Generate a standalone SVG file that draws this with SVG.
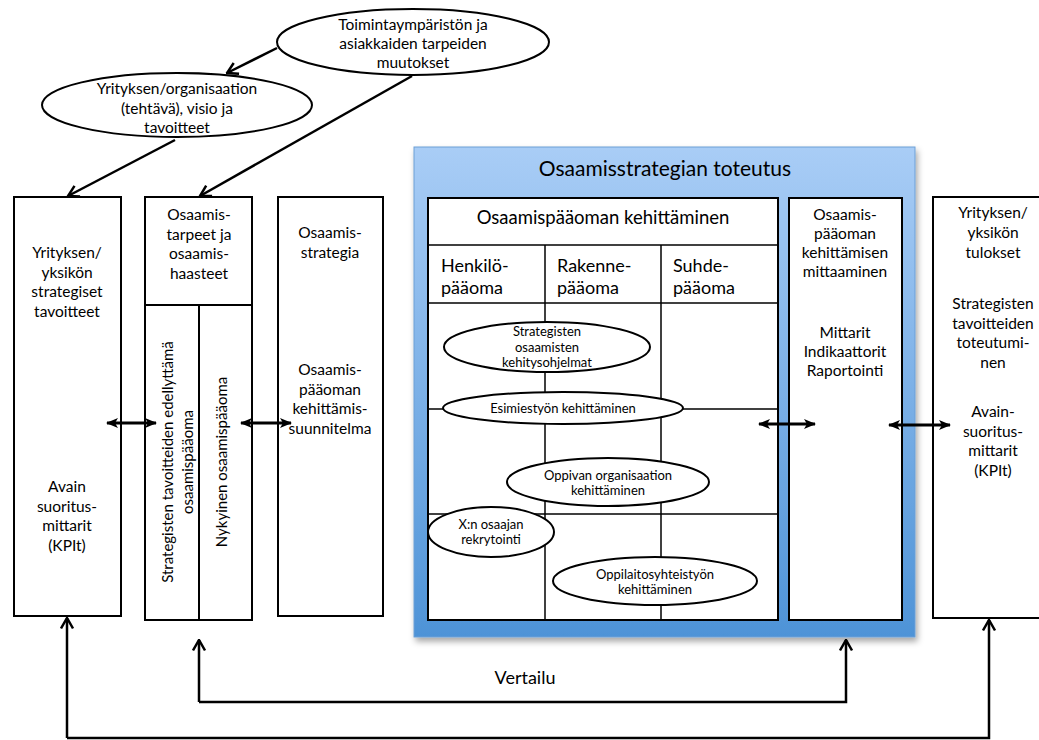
<svg xmlns="http://www.w3.org/2000/svg" width="1039" height="740" viewBox="0 0 1039 740">
  <style>
    text { font-family: Lato, "Open Sans", "Liberation Sans", sans-serif; fill: #000; text-anchor: middle; }
    .box { fill: #fff; stroke: #000; stroke-width: 2; }
    .grid { fill: none; stroke: #000; stroke-width: 1.5; }
    .ell { fill: #fff; stroke: #000; stroke-width: 2; }
    .t15 { font-size: 15.5px; }
    .t12 { font-size: 13px; }
    .t17 { font-size: 18px; }
    .left { text-anchor: start; }
    .conn { fill: none; stroke: #000; stroke-width: 2.5; }
    .dbl { fill: none; stroke: #000; stroke-width: 3; }
  </style>
  <defs>
    <linearGradient id="blueFill" x1="0" y1="0" x2="0" y2="1">
      <stop offset="0" stop-color="#a9cdf6"/>
      <stop offset="1" stop-color="#4e93d7"/>
    </linearGradient>
    <filter id="shadow" x="-5%" y="-5%" width="112%" height="115%">
      <feDropShadow dx="2" dy="4" stdDeviation="3" flood-color="#000" flood-opacity="0.35"/>
    </filter>
    <marker id="open" viewBox="0 0 14 14" markerWidth="14" markerHeight="14" refX="12.5" refY="7" orient="auto" markerUnits="userSpaceOnUse">
      <path d="M2,1 L12.5,7 L2,13" fill="none" stroke="#000" stroke-width="2.5"/>
    </marker>
    <marker id="solid" viewBox="0 0 12 10" markerWidth="12" markerHeight="10" refX="11" refY="5" orient="auto-start-reverse" markerUnits="userSpaceOnUse">
      <path d="M0,0 L12,5 L0,10 L3,5 Z" fill="#000"/>
    </marker>
  </defs>

  <!-- implementation frame -->
  <g id="toteutus">
    <rect x="414" y="147" width="501" height="490" fill="url(#blueFill)" stroke="#6c9fd6" stroke-width="1" filter="url(#shadow)"/>
    <text x="665" y="176" style="font-size:21px">Osaamisstrategian toteutus</text>
  </g>

  <!-- development table -->
  <g id="kehittaminen">
    <rect class="box" x="428" y="198" width="350" height="422"/>
    <line class="grid" x1="428" y1="245" x2="778" y2="245"/>
    <line class="grid" x1="428" y1="303" x2="778" y2="303"/>
    <line class="grid" x1="428" y1="409" x2="778" y2="409"/>
    <line class="grid" x1="428" y1="514" x2="778" y2="514"/>
    <line class="grid" x1="545" y1="245" x2="545" y2="620"/>
    <line class="grid" x1="661" y1="245" x2="661" y2="620"/>
    <text x="603" y="224" style="font-size:18.5px">Osaamispääoman kehittäminen</text>
    <text class="t17 left" x="441" y="272">Henkilö-<tspan x="441" dy="22">pääoma</tspan></text>
    <text class="t17 left" x="557" y="272">Rakenne-<tspan x="557" dy="22">pääoma</tspan></text>
    <text class="t17 left" x="673" y="272">Suhde-<tspan x="673" dy="22">pääoma</tspan></text>
  </g>

  <g id="kehitysohjelmat">
    <ellipse class="ell" cx="547" cy="347" rx="103" ry="25"/>
    <text class="t12" x="547" y="336">Strategisten<tspan x="547" dy="15.5">osaamisten</tspan><tspan x="547" dy="15.5">kehitysohjelmat</tspan></text>
  </g>
  <g id="esimiestyo">
    <ellipse class="ell" cx="563" cy="408" rx="120" ry="16"/>
    <text class="t12" x="563" y="412.5">Esimiestyön kehittäminen</text>
  </g>
  <g id="oppiva">
    <ellipse class="ell" cx="608" cy="482" rx="101" ry="24"/>
    <text class="t12" x="608" y="480">Oppivan organisaation<tspan x="608" dy="14.5">kehittäminen</tspan></text>
  </g>
  <g id="rekrytointi">
    <ellipse class="ell" cx="491" cy="532" rx="63" ry="25"/>
    <text class="t12" x="491" y="529">X:n osaajan<tspan x="491" dy="15">rekrytointi</tspan></text>
  </g>
  <g id="oppilaitos">
    <ellipse class="ell" cx="655" cy="581" rx="102" ry="24"/>
    <text class="t12" x="655" y="579">Oppilaitosyhteistyön<tspan x="655" dy="15">kehittäminen</tspan></text>
  </g>

  <!-- measurement box -->
  <g id="mittaaminen">
    <rect class="box" x="789" y="198" width="113" height="422"/>
    <text class="t15" x="845" y="220">Osaamis-<tspan x="845" dy="19">pääoman</tspan><tspan x="845" dy="19">kehittämisen</tspan><tspan x="845" dy="19">mittaaminen</tspan></text>
    <text class="t15" x="845" y="338">Mittarit<tspan x="845" dy="19">Indikaattorit</tspan><tspan x="845" dy="19">Raportointi</tspan></text>
  </g>

  <!-- left column boxes -->
  <g id="strategiset-tavoitteet">
    <rect class="box" x="14" y="197" width="107" height="419"/>
    <text class="t15" x="67" y="258">Yrityksen/<tspan x="67" dy="19.5">yksikön</tspan><tspan x="67" dy="19.5">strategiset</tspan><tspan x="67" dy="19.5">tavoitteet</tspan></text>
    <text class="t15" x="67" y="492">Avain<tspan x="67" dy="19.5">suoritus-</tspan><tspan x="67" dy="19.5">mittarit</tspan><tspan x="67" dy="19.5">(KPIt)</tspan></text>
  </g>

  <g id="osaamistarpeet">
    <rect class="box" x="145" y="197" width="107" height="423"/>
    <line class="box" x1="145" y1="305" x2="252" y2="305"/>
    <line class="box" x1="199" y1="305" x2="199" y2="620"/>
    <text class="t15" x="199" y="220">Osaamis-<tspan x="199" dy="19.5">tarpeet ja</tspan><tspan x="199" dy="19.5">osaamis-</tspan><tspan x="199" dy="19.5">haasteet</tspan></text>
    <text transform="translate(168,462) rotate(-90)" y="5" style="font-size:15px">Strategisten tavoitteiden edellyttämä</text>
    <text transform="translate(188,462) rotate(-90)" y="5" style="font-size:15px">osaamispääoma</text>
    <text transform="translate(222,462) rotate(-90)" y="5" style="font-size:15px">Nykyinen osaamispääoma</text>
  </g>

  <g id="osaamisstrategia">
    <rect class="box" x="278" y="197" width="105" height="419"/>
    <text class="t15" x="330" y="238">Osaamis-<tspan x="330" dy="19.5">strategia</tspan></text>
    <text class="t15" x="330" y="375">Osaamis-<tspan x="330" dy="19.5">pääoman</tspan><tspan x="330" dy="19.5">kehittämis-</tspan><tspan x="330" dy="19.5">suunnitelma</tspan></text>
  </g>

  <!-- results box -->
  <g id="tulokset">
    <rect class="box" x="933" y="197" width="112" height="421"/>
    <text class="t15" x="993" y="218">Yrityksen/<tspan x="993" dy="20">yksikön</tspan><tspan x="993" dy="20">tulokset</tspan></text>
    <text class="t15" x="993" y="309">Strategisten<tspan x="993" dy="19.5">tavoitteiden</tspan><tspan x="993" dy="19.5">toteutumi-</tspan><tspan x="993" dy="19.5">nen</tspan></text>
    <text class="t15" x="993" y="417">Avain-<tspan x="993" dy="19.5">suoritus-</tspan><tspan x="993" dy="19.5">mittarit</tspan><tspan x="993" dy="19.5">(KPIt)</tspan></text>
  </g>

  <!-- driver ellipses -->
  <g id="toimintaymparisto">
    <ellipse class="ell" cx="413" cy="42" rx="136" ry="33"/>
    <text class="t15" x="413" y="30">Toimintaympäristön ja<tspan x="413" dy="19">asiakkaiden tarpeiden</tspan><tspan x="413" dy="19">muutokset</tspan></text>
  </g>
  <g id="visio">
    <ellipse class="ell" cx="177" cy="105" rx="135" ry="32"/>
    <text class="t15" x="177" y="94">Yrityksen/organisaation<tspan x="177" dy="19.5">(tehtävä), visio ja</tspan><tspan x="177" dy="19.5">tavoitteet</tspan></text>
  </g>

  <!-- connectors -->
  <g id="connectors">
    <line class="conn" x1="277" y1="48" x2="227" y2="73" marker-end="url(#open)"/>
    <line class="conn" x1="175" y1="140" x2="68" y2="196" marker-end="url(#open)"/>
    <line class="conn" x1="412" y1="76" x2="200" y2="196" marker-end="url(#open)"/>

    <line class="dbl" x1="107" y1="423" x2="156" y2="423" marker-start="url(#solid)" marker-end="url(#solid)"/>
    <line class="dbl" x1="241" y1="423" x2="291" y2="423" marker-start="url(#solid)" marker-end="url(#solid)"/>
    <line class="dbl" x1="759" y1="424" x2="815" y2="424" marker-start="url(#solid)" marker-end="url(#solid)"/>
    <line class="dbl" x1="889" y1="425" x2="950" y2="425" marker-start="url(#solid)" marker-end="url(#solid)"/>

    <polyline class="conn" points="199,702 199,640" marker-end="url(#open)"/>
    <polyline class="conn" points="199,702 846,702 846,640" marker-end="url(#open)"/>
    <polyline class="conn" points="67,738 67,618" marker-end="url(#open)" stroke="#222"/>
    <polyline class="conn" points="67,738 989,738 989,620" marker-end="url(#open)" stroke="#222"/>
    <text x="525" y="684" style="font-size:18px">Vertailu</text>
  </g>
</svg>
